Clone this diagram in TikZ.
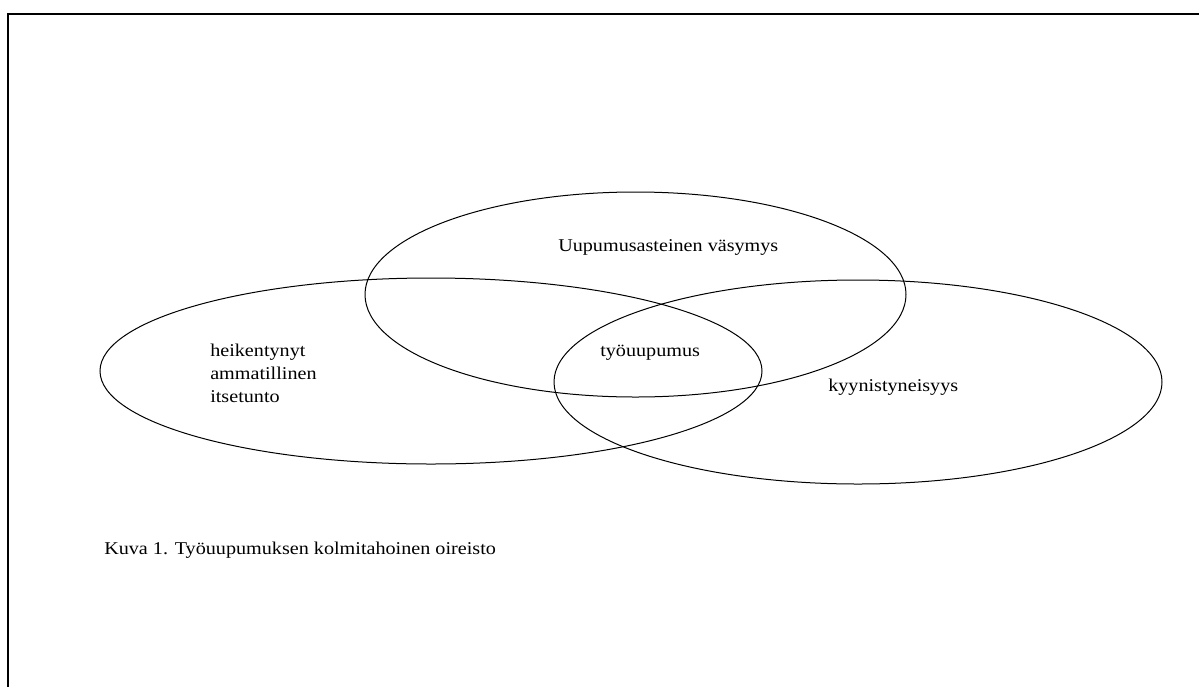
\documentclass[tikz,border=0pt]{standalone}
\usepackage{fontspec}
\setmainfont{Liberation Serif}[FakeStretch=1.12]
\usetikzlibrary{shapes.geometric}
\begin{document}
\begin{tikzpicture}[x=0.75pt,y=-0.75pt,
  setoval/.style={draw=black,line width=0.75pt,shape=ellipse,inner sep=0pt,fill=none},
  lbl/.style={font=\fontsize{13.5pt}{17.25pt}\selectfont,inner sep=0pt,text=black},
  framel/.style={draw=black,line width=1.6pt}]
  \useasboundingbox (0,0) rectangle (1199,686);
  \fill[white] (0,0) rectangle (1199,686);
  % page frame, clipped at the right and bottom
  \coordinate (fbot) at (8,700);
  \coordinate (fcorner) at (8,14);
  \coordinate (fright) at (1210,14);
  \draw[framel] (fbot) -- (fcorner) -- (fright);
  % the three overlapping sets
  \node[setoval,minimum width=405.75pt,minimum height=153.75pt] (fatigue) at (635.5,294.5) {};
  \node[setoval,minimum width=496.5pt,minimum height=139.5pt] (esteem) at (431,371) {};
  \node[setoval,minimum width=456pt,minimum height=153pt] (cynic) at (858,382) {};
  % labels
  \node[lbl,anchor=base west] (tfatigue) at (558,251) {Uupumusasteinen väsymys};
  \node[lbl,anchor=north west,align=left] (testeem) at (210,344) {heikentynyt\\ammatillinen\\itsetunto};
  \node[lbl,anchor=base west] (tburn) at (600,356) {työuupumus};
  \node[lbl,anchor=base west] (tcynic) at (828,391) {kyynistyneisyys};
  \node[lbl,anchor=base west] (caption) at (104,554) {Kuva 1. Työuupumuksen kolmitahoinen oireisto};
\end{tikzpicture}
\end{document}
